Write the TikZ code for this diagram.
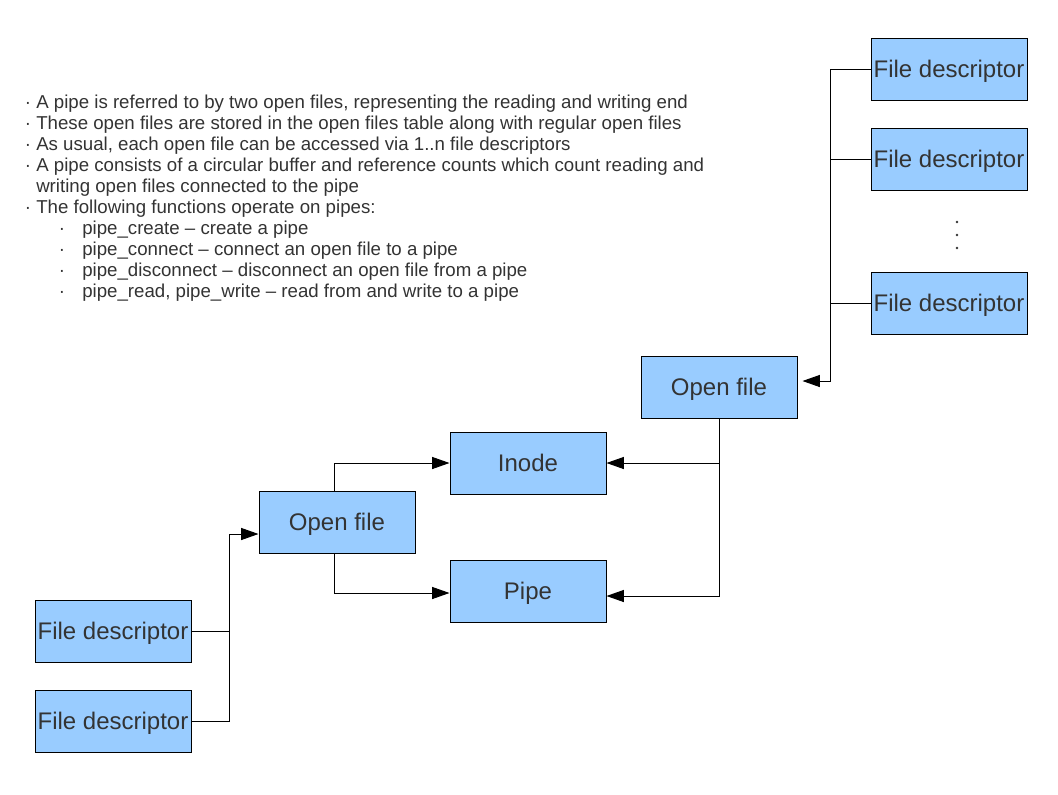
\documentclass[tikz,border=0pt]{standalone}
\usepackage{fontspec}
\setmainfont{Liberation Sans}
\usetikzlibrary{arrows.meta,positioning}
\definecolor{boxblue}{HTML}{99CCFF}
\definecolor{ink}{HTML}{333333}

\begin{document}
\begin{tikzpicture}[x=0.75pt,y=-0.75pt,line cap=butt,
    >={Triangle[length=13pt,width=9pt]},
    box/.style={draw=black,fill=boxblue,text=ink,line width=0.75pt,
      minimum width=117pt,minimum height=46.5pt,inner sep=0pt,
      text height=13.2pt,text depth=0.8pt,
      font=\fontsize{18}{21}\selectfont},
    wire/.style={line width=0.75pt},
    note/.style={anchor=base west,inner sep=0pt,text=ink,
      font=\fontsize{14}{16}\selectfont}]
  \useasboundingbox (0,0) rectangle (1058,794);

  % bullet text
  \foreach \i/\bx/\tx/\y/\t in {
      1/28/36/108/{A pipe is referred to by two open files, representing the reading and writing end},
      2/28/36/129/{These open files are stored in the open files table along with regular open files},
      3/28/36/150/{As usual, each open file can be accessed via 1..n file descriptors},
      4/28/36/171/{A pipe consists of a circular buffer and reference counts which count reading and},
      5/-1/36/192/{writing open files connected to the pipe},
      6/28/36/213/{The following functions operate on pipes:},
      7/62/82/234/{pipe\_create – create a pipe},
      8/62/82/255/{pipe\_connect – connect an open file to a pipe},
      9/62/82/276/{pipe\_disconnect – disconnect an open file from a pipe},
      10/62/82/297/{pipe\_read, pipe\_write – read from and write to a pipe}}{
    \node[note] (line\i) at (\tx,\y) {\t};
    \ifnum\bx>0
      \node[note,anchor=base] (dot\i) at (\bx,\y) {·};
    \fi
  }

  % right column
  \node[box] (fdr1) at (949,69) {File descriptor};
  \node[box] (fdr2) at (949,159) {File descriptor};
  \node[box] (fdr3) at (949,303) {File descriptor};
  \foreach \j/\y in {1/222,2/235,3/248}
    \fill[ink] (957,\y) circle (1pt) coordinate (vdot\j);
  \node[box] (ofTop) at (719,387) {Open file};
  \coordinate (rtrunk) at (830,381);
  \draw[wire,->] (fdr1.west) -| (rtrunk) -- ([xshift=3.75pt]rtrunk -| ofTop.east);
  \draw[wire] (fdr2.west) -- (fdr2.west -| rtrunk);
  \draw[wire] (fdr3.west) -- (fdr3.west -| rtrunk);

  % middle
  \node[box] (inode) at (528,463) {Inode};
  \node[box] (pipe) at (528,591) {Pipe};
  \coordinate (mtrunk) at (719,596);
  \draw[wire,->] (ofTop.south) |- (inode.east);
  \draw[wire,->] (ofTop.south) -- (mtrunk) -- (mtrunk -| pipe.east);

  % left
  \node[box] (ofBot) at (337,522) {Open file};
  \node[box] (fdl1) at (113,631) {File descriptor};
  \node[box] (fdl2) at (113,721) {File descriptor};
  \coordinate (ltrunk) at (229,534);
  \draw[wire,->] ([xshift=-2.25pt]ofBot.north) |- (inode.west);
  \draw[wire,->] ([xshift=-2.25pt]ofBot.south) |- ([yshift=-1.5pt]pipe.west);
  \draw[wire,->] (fdl2.east) -| (ltrunk) -- (ltrunk -| ofBot.west);
  \draw[wire] (fdl1.east) -- (fdl1.east -| ltrunk);
\end{tikzpicture}
\end{document}
